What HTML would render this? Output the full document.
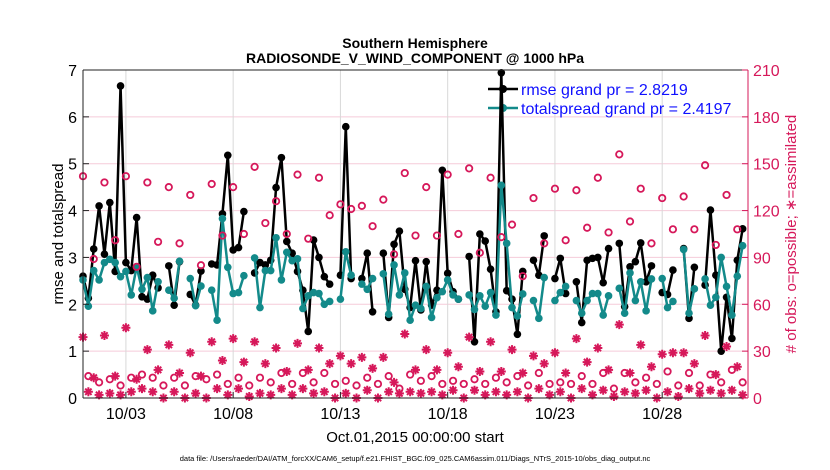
<!DOCTYPE html>
<html><head><meta charset="utf-8"><style>
html,body{margin:0;padding:0;background:#fff;}
svg{display:block;font-family:"Liberation Sans",Arial,sans-serif;}
</style></head><body>
<svg id="chart" width="830" height="470" viewBox="0 0 830 470">
<rect x="0" y="0" width="830" height="470" fill="#fff"/>
<g id="grid"></g>
<g id="legend">
<line x1="488" y1="89" x2="518" y2="89" stroke="#000" stroke-width="2.5"/>
<circle cx="503" cy="89" r="4" fill="#000"/>
<text x="521" y="95" font-size="16" fill="#1010ff">rmse grand pr = 2.8219</text>
<line x1="488" y1="108" x2="518" y2="108" stroke="#138a8a" stroke-width="2.5"/>
<circle cx="503" cy="108" r="4" fill="#138a8a"/>
<text x="521" y="114" font-size="16" fill="#1010ff">totalspread grand pr = 2.4197</text>
</g>
<g id="series"></g>
<g id="axes"></g>
<text x="415" y="48" text-anchor="middle" font-size="14" font-weight="bold">Southern Hemisphere</text>
<text x="415" y="63" text-anchor="middle" font-size="14" font-weight="bold">RADIOSONDE_V_WIND_COMPONENT @ 1000 hPa</text>
<text transform="translate(63,234) rotate(-90)" text-anchor="middle" font-size="15">rmse and totalspread</text>
<text transform="translate(796,234) rotate(-90)" text-anchor="middle" font-size="15" fill="#d6185a"># of obs: o=possible; ∗=assimilated</text>
<text x="415" y="442" text-anchor="middle" font-size="15">Oct.01,2015 00:00:00 start</text>
<text x="415" y="461" text-anchor="middle" font-size="7.5">data file: /Users/raeder/DAI/ATM_forcXX/CAM6_setup/f.e21.FHIST_BGC.f09_025.CAM6assim.011/Diags_NTrS_2015-10/obs_diag_output.nc</text>
</svg>
<script>
const xTickLabels = ["10/03","10/08","10/13","10/18","10/23","10/28"];
const xTickDays = [2,7,12,17,22,27];
const yTicks = [0,1,2,3,4,5,6,7];
const y2Ticks = [0,30,60,90,120,150,180,210];
const rmse = [2.6,2.13,3.18,4.10,3.07,4.17,2.70,6.66,2.89,2.72,3.85,2.16,2.11,2.62,2.35,null,2.82,1.98,2.91,null,2.21,1.98,2.71,null,2.86,2.84,3.93,5.18,3.16,3.21,3.98,null,2.67,
2.89,2.84,2.94,4.49,5.13,3.34,3.09,2.70,2.30,1.42,3.37,3.00,2.59,2.43,null,2.62,5.79,2.55,null,2.55,3.09,1.84,null,3.09,1.72,3.28,3.56,2.32,1.93,2.93,1.88,
2.91,1.98,2.30,4.86,2.66,2.27,2.11,null,3.02,1.20,3.50,3.35,2.75,1.84,6.94,2.29,2.11,1.36,2.70,null,2.94,2.62,3.46,null,2.55,2.98,2.23,null,2.48,1.61,2.94,2.98,
3.00,2.46,3.19,null,3.30,1.95,2.80,2.91,3.31,2.48,2.82,null,2.25,2.21,2.73,null,3.19,1.70,2.79,null,2.41,4.01,2.62,1.00,2.15,1.27,2.94,3.61];
const spread = [2.52,1.96,2.72,2.52,2.89,2.96,2.89,2.59,2.70,2.20,2.80,2.32,2.57,1.86,2.48,null,2.30,2.13,2.92,null,2.55,1.97,2.39,null,2.30,1.66,3.83,2.79,2.23,2.25,2.61,null,2.99,
1.93,2.72,2.72,3.42,2.52,3.11,2.93,2.97,1.91,2.18,2.25,2.23,2.00,2.06,null,2.11,3.12,2.62,null,2.43,2.32,2.55,null,2.65,1.79,2.84,2.20,2.67,1.66,1.98,1.91,
2.38,1.72,2.14,2.27,2.52,2.20,2.11,null,2.20,1.89,2.18,1.96,2.25,1.77,4.54,3.30,1.93,1.75,2.22,null,2.08,1.70,2.57,null,2.08,2.25,2.38,null,2.08,1.81,2.08,2.23,
2.23,1.77,2.18,null,2.34,1.81,2.67,2.08,2.48,1.86,2.54,null,2.55,1.93,2.06,null,3.17,1.81,2.33,null,2.54,1.98,2.15,3.00,2.38,1.77,2.60,3.25];
const possible = [142,14,89,10,138,12,101,8,142,13,84,15,138,13,100,8,135,13,99,8,130,14,85,12,137,15,104,9,135,13,105,8,148,
13,112,10,126,16,105,9,143,16,102,10,141,16,117,9,124,11,121,8,123,13,110,9,127,14,92,6,144,15,104,11,
135,14,104,9,143,11,105,9,147,12,93,9,141,13,103,10,111,14,78,8,128,16,99,9,134,10,101,9,133,14,109,9,
141,16,106,6,156,16,113,10,134,13,99,9,128,17,108,8,129,16,108,8,149,15,98,10,130,18,108,10];
const assimilated = [39,4,13,2,40,3,14,2,45,4,12,6,31,4,18,0,34,4,16,0,29,3,14,0,36,6,24,2,38,6,23,1,36,
3,22,2,32,6,17,2,35,6,18,3,32,4,22,0,27,3,22,0,26,5,19,0,26,4,10,3,41,4,18,3,
31,4,18,2,29,5,20,0,39,5,17,2,36,4,17,2,31,4,16,0,27,6,22,2,29,4,16,0,38,6,23,2,
32,5,18,1,47,4,16,3,34,5,20,0,28,4,29,1,29,6,22,3,40,5,15,3,33,5,20,2];

const NS = "http://www.w3.org/2000/svg";
const L = 83, R = 748, T = 70, B = 398;
const xDays = 31, stepDays = 0.25;
const xs = d => L + d / xDays * (R - L);
const ys = v => B - v / 7 * (B - T);
const ys2 = c => B - c / 210 * (B - T);
function mk(tag, attrs, parent) {
  const e = document.createElementNS(NS, tag);
  for (const k in attrs) e.setAttribute(k, attrs[k]);
  parent.appendChild(e);
  return e;
}
const grid = document.getElementById('grid');
const axes = document.getElementById('axes');
const series = document.getElementById('series');

y2Ticks.forEach(t => {
  if (t === 0 || t === 210) return;
  const g = mk('line', {x1: L, x2: R, y1: ys2(t), y2: ys2(t), stroke: '#f5cbd9', 'stroke-width': 1}, grid);
  
  
});
xTickDays.forEach(d => {
  const g = mk('line', {x1: xs(d), x2: xs(d), y1: T, y2: B, stroke: '#d8d8d8', 'stroke-width': 1}, grid);
  
  
});

let a = mk('line', {x1: L, x2: L, y1: T, y2: B, stroke: '#222', 'stroke-width': 1}, axes);
 
a = mk('line', {x1: L, x2: R, y1: B, y2: B, stroke: '#222', 'stroke-width': 1}, axes);
 
a = mk('line', {x1: L, x2: R, y1: T, y2: T, stroke: '#222', 'stroke-width': 1}, axes);
 
a = mk('line', {x1: R, x2: R, y1: T, y2: B, stroke: '#d6185a', 'stroke-width': 1}, axes);
 

yTicks.forEach(t => {
  const tk = mk('line', {x1: L, x2: L + 6, y1: ys(t), y2: ys(t), stroke: '#222'}, axes);
   
  const tx = mk('text', {x: L - 6, y: ys(t) + 6, 'text-anchor': 'end', 'font-size': 16}, axes);
  tx.textContent = t;
   
});
y2Ticks.forEach(t => {
  const tk = mk('line', {x1: R - 6, x2: R, y1: ys2(t), y2: ys2(t), stroke: '#d6185a'}, axes);
   
  const tx = mk('text', {x: R + 5, y: ys2(t) + 6, 'font-size': 16, fill: '#d6185a'}, axes);
  tx.textContent = t;
   
});
xTickDays.forEach((d, i) => {
  const tk = mk('line', {x1: xs(d), x2: xs(d), y1: B - 6, y2: B, stroke: '#222'}, axes);
   
  const tx = mk('text', {x: xs(d), y: B + 21, 'text-anchor': 'middle', 'font-size': 16}, axes);
  tx.textContent = xTickLabels[i];
   
});

function drawLine(arr, color, name) {
  let seg = [];
  const segs = [];
  arr.forEach((v, i) => {
    if (v === null) { if (seg.length) segs.push(seg); seg = []; }
    else seg.push([xs(i * stepDays), ys(v)]);
  });
  if (seg.length) segs.push(seg);
  segs.forEach(s => {
    const p = mk('polyline', {points: s.map(q => q.join(',')).join(' '), fill: 'none', stroke: color, 'stroke-width': 2.5, 'stroke-linejoin': 'round'}, series);
    
    
  });
  arr.forEach((v, i) => {
    if (v === null) return;
    const c = mk('circle', {cx: xs(i * stepDays), cy: ys(v), r: 3.8, fill: color}, series);
    
    
  });
}
drawLine(rmse, '#000', 'rmse');
drawLine(spread, '#138a8a', 'totalspread');

const red = '#d6185a';
possible.forEach((c, i) => {
  const m = mk('circle', {cx: xs(i * stepDays), cy: ys2(c), r: 3.2, fill: 'none', stroke: red, 'stroke-width': 1.8}, series);
  
  
});
assimilated.forEach((c, i) => {
  const cx = xs(i * stepDays), cy = ys2(c), r = 4.5;
  let d = '';
  for (let k = 0; k < 4; k++) {
    const ang = k * Math.PI / 4;
    const dx = r * Math.cos(ang), dy = r * Math.sin(ang);
    d += `M${cx - dx},${cy - dy}L${cx + dx},${cy + dy}`;
  }
  const m = mk('path', {d: d, stroke: red, 'stroke-width': 2, fill: 'none'}, series);
  
  
});
</script>
</body></html>
